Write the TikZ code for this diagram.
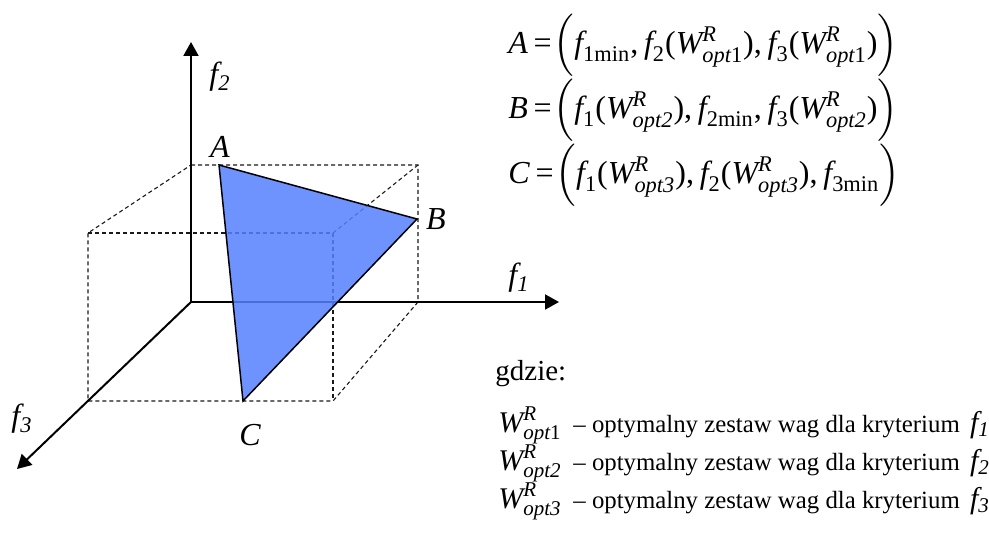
\documentclass[tikz,border=0pt]{standalone}
\usepackage{amsmath}
\usepackage{fontspec}
\setmainfont{Liberation Serif}
\usetikzlibrary{arrows.meta}
\newcommand{\itx}[1]{\text{\itshape #1}}
\newcommand{\wopt}[1]{\itx{W}^{\itx{R}}_{\itx{opt}#1}}
\newcommand{\fmin}[1]{\itx{f}_{\text{#1min}}}
\newcommand{\fof}[2]{\itx{f}_{\text{#1}}\text{(}\wopt{#2}\text{)}}
\newcommand{\eqs}{\mkern3mu\text{=}\mkern1mu}

\begin{document}
\begin{tikzpicture}[x=0.5pt, y=-0.5pt,
  axis/.style={line width=1pt, -{Triangle[length=7pt,width=7.5pt]}},
  edge/.style={dash pattern=on 2pt off 1.5pt, line width=0.55pt, black!90},
  face/.style={draw=black, line width=0.75pt, fill={rgb,255:red,85;green,128;blue,255}, fill opacity=0.85},
  lab/.style={font=\fontsize{16}{18}\selectfont\itshape, inner sep=1pt},
  eq/.style={anchor=base west, font=\fontsize{16}{19}\selectfont, inner sep=0pt},
  leg/.style={anchor=base west, font=\fontsize{12.4}{15}\selectfont, inner sep=0pt}]
\useasboundingbox (0,0) rectangle (989,545);
\coordinate (O) at (191,302);
\coordinate (x1) at (559,302);
\coordinate (x2) at (191,42);
\coordinate (x3) at (17,469);
\coordinate (bt1) at (191,165);
\coordinate (bt2) at (418,165);
\coordinate (bb2) at (418,302);
\coordinate (ft1) at (88,233);
\coordinate (ft2) at (333,233);
\coordinate (fb1) at (88,401);
\coordinate (fb2) at (333,401);
\coordinate (A) at (219,165);
\coordinate (B) at (417,219);
\coordinate (C) at (243,401);
\draw[edge] (bt1) -- (bt2) -- (bb2) -- (fb2) -- (fb1) -- (ft1) -- (bt1);
\draw[edge] (ft1) -- (ft2) -- (fb2);
\draw[edge] (ft2) -- (bt2);
\draw[axis] (O) -- (x1);
\draw[axis] (O) -- (x2);
\draw[axis] (O) -- (x3);
\path[face] (A) -- (B) -- (C) -- cycle;
\node[lab] (lA) at (220,147) {A};
\node[lab] (lB) at (436,219) {B};
\node[lab] (lC) at (250,435) {C};
\node[lab] (l1) at (519,278) {f\textsubscript{1}};
\node[lab] (l2) at (220,77) {f\textsubscript{2}};
\node[lab] (l3) at (22,419) {f\textsubscript{3}};
\node[eq] (eA) at (508,54) {$\itx{A}\eqs\Bigl(\fmin{1}\text{,}\,\fof{2}{\text{1}}\text{,}\,\fof{3}{\text{1}}\Bigr)$};
\node[eq] (eB) at (508,119) {$\itx{B}\eqs\Bigl(\fof{1}{\itx{2}}\text{,}\,\fmin{2}\text{,}\,\fof{3}{\itx{2}}\Bigr)$};
\node[eq] (eC) at (508,184) {$\itx{C}\eqs\Bigl(\fof{1}{\itx{3}}\text{,}\,\fof{2}{\itx{3}}\text{,}\,\fmin{3}\Bigr)$};
\node[leg, font=\fontsize{14.5}{17}\selectfont] (gdz) at (495,380) {gdzie:};
\node[eq, font=\fontsize{15}{18}\selectfont] (w1) at (498,432) {$\wopt{\text{1}}$};
\node[eq, font=\fontsize{15}{18}\selectfont] (w2) at (498,470) {$\wopt{\itx{2}}$};
\node[eq, font=\fontsize{15}{18}\selectfont] (w3) at (498,508) {$\wopt{\itx{3}}$};
\node[leg] (t1) at (573,432) {-- optymalny zestaw wag dla kryterium \,{\fontsize{15}{18}\selectfont\itshape f\textsubscript{1}}};
\node[leg] (t2) at (573,470) {-- optymalny zestaw wag dla kryterium \,{\fontsize{15}{18}\selectfont\itshape f\textsubscript{2}}};
\node[leg] (t3) at (573,508) {-- optymalny zestaw wag dla kryterium \,{\fontsize{15}{18}\selectfont\itshape f\textsubscript{3}}};
\end{tikzpicture}
\end{document}
